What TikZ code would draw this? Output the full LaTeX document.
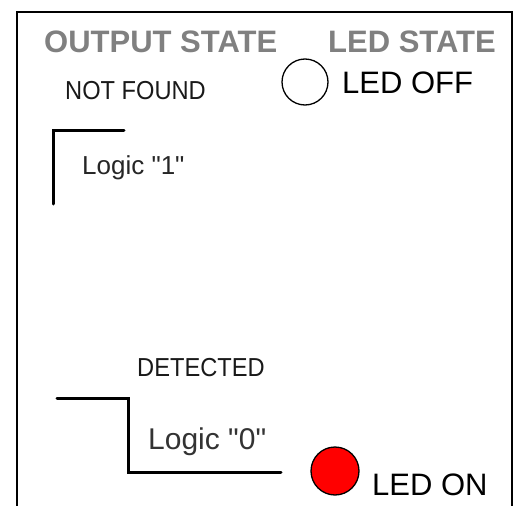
\documentclass[tikz,border=0pt]{standalone}
\usepackage{fontspec}
\setmainfont{Liberation Sans}
\begin{document}
\begin{tikzpicture}[x=1pt,y=-1pt,
  lbl/.style={inner sep=0pt,anchor=base west,text=black},
  head/.style={inner sep=0pt,anchor=base west,text=headgray,font=\fontsize{31}{31}\selectfont\bfseries},
  small/.style={lbl,font=\fontsize{26}{26}\selectfont,text=black!90,xscale=0.91},
  wave/.style={line width=3pt,line cap=round,line join=miter},
  frame/.style={line width=1.6pt}]
\definecolor{headgray}{RGB}{128,128,128}
\definecolor{ledred}{RGB}{255,0,0}
\useasboundingbox (0,0) rectangle (520,506);
% frame
\coordinate (f1) at (17,506);
\coordinate (f2) at (17,12);
\coordinate (f3) at (512,12);
\coordinate (f4) at (512,506);
\draw[frame] (f1) -- (f2) -- (f3) -- (f4);
% headings
\node[head] (hout) at (44,52) {OUTPUT STATE};
\node[head,anchor=base east] (hled) at (496,52) {LED STATE};
% not found
\node[small] (nf) at (65,99) {NOT FOUND};
\node[draw,circle,line width=1.3pt,minimum size=46pt,inner sep=0pt] (off) at (305,82) {};
\node[lbl,font=\fontsize{31}{31}\selectfont] (offt) at (342,93) {LED OFF};
% logic 1
\coordinate (a1) at (53,204);
\coordinate (a2) at (124,130);
\draw[wave] (a1) |- (a2);
\node[lbl,font=\fontsize{26}{26}\selectfont,text=black!85] (l1) at (82,174) {Logic \textquotedbl 1\textquotedbl};
% detected
\node[small] (det) at (137,376) {DETECTED};
\coordinate (b1) at (57,398);
\coordinate (b2) at (128,398);
\coordinate (b3) at (128,472);
\coordinate (b4) at (281,472);
\draw[wave] (b1) -- (b2) -- (b3) -- (b4);
\node[lbl,font=\fontsize{30}{30}\selectfont,text=black!80] (l0) at (148,449) {Logic \textquotedbl 0\textquotedbl};
\node[draw,circle,fill=ledred,line width=1.3pt,minimum size=48pt,inner sep=0pt] (on) at (335,471) {};
\node[lbl,font=\fontsize{31}{31}\selectfont] (ont) at (372,495) {LED ON};
\end{tikzpicture}
\end{document}
